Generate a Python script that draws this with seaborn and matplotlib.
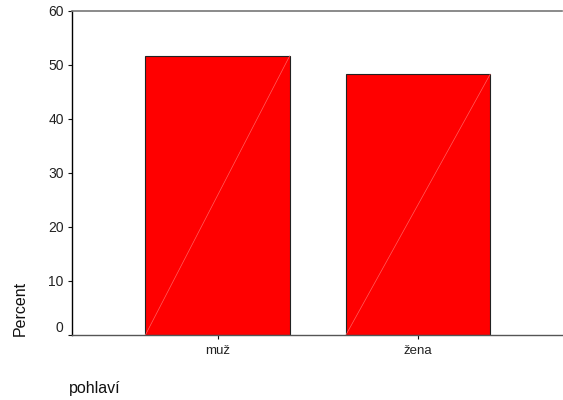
import pandas as pd
import matplotlib
matplotlib.use('Agg')
import matplotlib.pyplot as plt
import matplotlib.transforms as mtransforms
import seaborn as sns

# data
kategorie = ['muž', 'žena']
procenta = [51.7, 48.3]
y_ticks = [0, 10, 20, 30, 40, 50, 60]

dados = pd.DataFrame({'pohlavi': kategorie, 'procenta': procenta})

sns.set_style('white')
plt.rcParams['font.family'] = ['Liberation Sans', 'DejaVu Sans']

fig = plt.figure(figsize=(5.63, 4), dpi=100)
ax = fig.add_axes([72 / 563, (400 - 335) / 400, (562 - 72) / 563, (335 - 11) / 400])

sns.barplot(data=dados, x='pohlavi', y='procenta', color='#ff0000', saturation=1,
            edgecolor='#222222', linewidth=0.8, width=0.72, ax=ax)

# thin diagonal line inside each bar (SPSS rendering artefact)
for p in ax.patches:
    x0, y0 = p.get_x(), p.get_y()
    ax.plot([x0, x0 + p.get_width()], [y0, y0 + p.get_height()],
            color='#ff6060', linewidth=0.5, zorder=3)

ax.set_xlim(-0.726, 1.718)
ax.set_ylim(0, 60)
ax.set_yticks(y_ticks)
ax.set_yticklabels([str(t) for t in y_ticks], fontsize=10, color='#222222')
ax.set_xticks([0, 1])
ax.set_xticklabels(kategorie, fontsize=9.5, color='#222222')
ax.tick_params(axis='both', direction='out', length=3, width=0.8, colors='#111111',
               pad=3, bottom=True, left=True)
ax.tick_params(axis='x', pad=4)
ax.tick_params(axis='both', labelcolor='#222222')

# nudge 0 label upward like the original
lab0 = ax.yaxis.get_major_ticks()[0].label1
lab0.set_transform(lab0.get_transform() +
                   mtransforms.ScaledTranslation(0, 6 / 72, fig.dpi_scale_trans))

ax.spines['right'].set_visible(False)
ax.spines['top'].set_color('#777777')
ax.spines['top'].set_linewidth(1.2)
ax.spines['left'].set_color('#000000')
ax.spines['left'].set_linewidth(1.0)
ax.spines['bottom'].set_color('#555555')
ax.spines['bottom'].set_linewidth(1.0)

ax.set_xlabel('')
ax.set_ylabel('')
fig.text(20 / 563, 1 - 308 / 400, 'Percent', rotation=90, fontsize=11.5,
         ha='center', va='center', color='#111111')
fig.text(69 / 563, 1 - 389 / 400, 'pohlaví', fontsize=11.5,
         ha='left', va='center', color='#111111')

plt.savefig('out.png', dpi=100)
